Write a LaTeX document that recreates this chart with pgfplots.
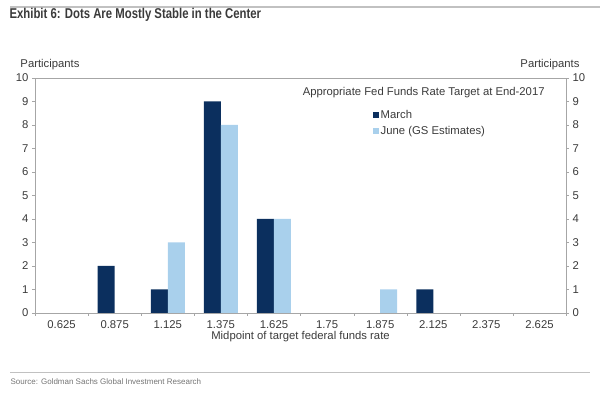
\documentclass[border=0pt]{standalone}
\usepackage{fontspec}
\setmainfont{Liberation Sans}
\newfontfamily\titlefont[FakeStretch=0.8]{Liberation Sans}
\usepackage{pgfplots}
\pgfplotsset{compat=1.18}
\definecolor{march}{HTML}{0B2F5E}
\definecolor{june}{HTML}{A9D0EC}
\definecolor{framegray}{HTML}{A6A6A6}
\definecolor{txt}{HTML}{3A3A3A}
\begin{document}
\begin{tikzpicture}
\path[use as bounding box] (0pt,0pt) rectangle (600pt,395pt);
\draw[framegray!70, line width=1.5pt] (10pt,388pt) -- (600pt,388pt);
\node[anchor=west, font=\titlefont\bfseries\fontsize{14.2}{16}\selectfont, text=txt] at (6pt,380pt) {Exhibit 6: Dots Are Mostly Stable in the Center};
\node[font=\fontsize{11.3}{13}\selectfont, text=txt] at (50pt,330pt) {Participants};
\node[font=\fontsize{11.3}{13}\selectfont, text=txt] at (550pt,330pt) {Participants};
\draw[framegray!70, line width=0.8pt] (10pt,23pt) -- (590pt,23pt);
\node[anchor=west, font=\fontsize{8}{10}\selectfont, text=txt!70] at (7pt,13pt) {Source: Goldman Sachs Global Investment Research};
\pgfplotsset{
  common/.style={
    at={(35pt,82pt)}, anchor=south west, scale only axis,
    width=531pt, height=235pt,
    xmin=-0.5, xmax=9.5, ymin=0, ymax=10,
    ytick={0,...,10},
    axis line style={framegray},
    tick style={framegray},
    tick align=outside,
    major tick length=3pt,
    minor tick length=3pt,
    ticklabel style={font=\fontsize{11.3}{13}\selectfont, text=txt},
    /pgf/number format/assume math mode=true,
  }
}
\begin{axis}[common,
  ybar=0pt, bar width=17pt,
  xtick={0,...,9},
  xticklabels={0.625,0.875,1.125,1.375,1.625,1.75,1.875,2.125,2.375,2.625},
  major x tick style={draw=none},
  minor xtick={-0.5,0.5,...,9.5},
  xtick pos=bottom,
  ytick pos=left,
  xticklabel style={yshift=-1pt},
  xlabel={Midpoint of target federal funds rate},
  xlabel style={font=\fontsize{11.3}{13}\selectfont, text=txt, yshift=4pt},
  legend cell align=left,
  legend style={at={(0.63,0.88)}, anchor=north west, draw=none, fill=none,
    font=\fontsize{11.3}{13}\selectfont, text=txt, row sep=2pt,
    /tikz/every even column/.append style={column sep=2pt}},
  legend image code/.code={\fill[#1, draw=none] (0pt,-3pt) rectangle (6pt,3pt);},
]
\addplot[fill=march, draw=none] coordinates {(1,2) (2,1) (3,9) (4,4) (7,1)};
\addplot[fill=june, draw=none] coordinates {(2,3) (3,8) (4,4) (6,1)};
\legend{March, June (GS Estimates)}
\node[font=\fontsize{11.3}{13}\selectfont, text=txt] at (rel axis cs:0.732,0.936) {Appropriate Fed Funds Rate Target at End-2017};
\end{axis}
\begin{axis}[common,
  xtick=\empty,
  ytick pos=right,
  yticklabel pos=right,
]
\end{axis}
\end{tikzpicture}
\end{document}
